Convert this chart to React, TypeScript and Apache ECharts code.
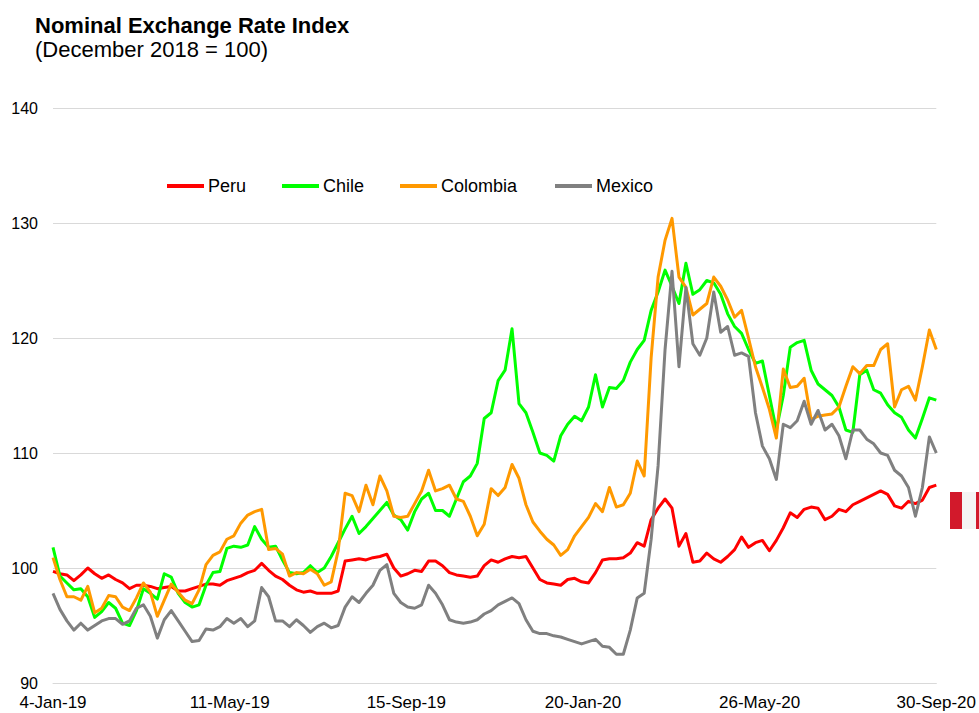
import React, { useEffect, useRef } from "react";
import * as echarts from "echarts";

// x-axis tick labels (every 127 days from 4-Jan-19)
const tickLabels = ["4-Jan-19", "11-May-19", "15-Sep-19", "20-Jan-20", "26-May-20", "30-Sep-20"];
const TICK_DAYS = 127;
const TOTAL_DAYS = 635;
const STEP_DAYS = 5; // one reading every 5 days

const peru = [
  99.7, 99.5, 99.4, 98.9, 99.4, 100.0, 99.5, 99.1, 99.4, 99.0,
  98.7, 98.2, 98.5, 98.5, 98.4, 98.2, 98.3, 98.4, 98.0, 98.0,
  98.2, 98.4, 98.6, 98.6, 98.5, 98.9, 99.1, 99.3, 99.6, 99.8,
  100.4, 99.8, 99.3, 99.0, 98.5, 98.1, 97.9, 98.0, 97.8, 97.8,
  97.8, 98.0, 100.6, 100.7, 100.8, 100.7, 100.9, 101.0, 101.2, 100.0,
  99.3, 99.5, 99.8, 99.7, 100.6, 100.6, 100.2, 99.6, 99.4, 99.3,
  99.2, 99.3, 100.2, 100.7, 100.5, 100.8, 101.0, 100.9, 101.0, 100.0,
  99.0, 98.7, 98.6, 98.5, 99.0, 99.1, 98.8, 98.7, 99.6, 100.7,
  100.8, 100.8, 100.9, 101.3, 102.2, 101.9, 104.2, 105.2, 106.0, 105.2,
  101.9, 103.0, 100.5, 100.6, 101.3, 100.8, 100.5, 101.0, 101.6, 102.7,
  101.8, 102.2, 102.4, 101.5, 102.4, 103.5, 104.8, 104.4, 105.1, 105.3,
  105.2, 104.2, 104.5, 105.1, 104.9, 105.5, 105.8, 106.1, 106.4, 106.7,
  106.4, 105.4, 105.2, 105.8, 105.6, 105.9, 107.0, 107.2,
];

const chile = [
  101.8, 99.3, 98.7, 98.1, 98.2, 97.5, 95.7, 96.2, 97.0, 96.5,
  95.2, 95.0, 96.3, 98.2, 97.8, 97.3, 99.5, 99.2, 97.8, 97.0,
  96.6, 96.8, 98.5, 99.6, 99.7, 101.7, 101.9, 101.8, 102.0, 103.6,
  102.5, 101.8, 101.9, 100.7, 99.6, 99.5, 99.6, 100.2, 99.6, 100.0,
  101.0, 102.2, 103.4, 104.5, 103.0, 103.6, 104.3, 105.0, 105.7, 104.6,
  104.2, 103.3, 104.9, 106.0, 106.5, 105.0, 105.0, 104.5, 106.0, 107.5,
  108.0, 109.1, 113.0, 113.5, 116.3, 117.2, 120.8, 114.3, 113.5, 111.8,
  110.0, 109.8, 109.3, 111.5, 112.5, 113.2, 112.8, 114.0, 116.8, 114.0,
  115.7, 115.6, 116.3, 117.9, 119.0, 119.8, 122.4, 124.0, 125.9, 124.5,
  123.0, 126.5, 123.8, 124.2, 125.0, 124.8, 123.8, 122.1, 121.0, 120.4,
  119.0, 117.8, 118.0, 115.0, 112.0, 115.0, 119.2, 119.6, 119.8, 117.2,
  116.0, 115.5, 115.0, 114.0, 112.0, 111.8, 116.8, 117.2, 115.5, 115.2,
  114.2, 113.5, 113.1, 112.0, 111.3, 113.0, 114.8, 114.6,
];

const colombia = [
  100.9, 99.0, 97.5, 97.5, 97.2, 98.4, 96.1, 96.5, 97.6, 97.5,
  96.6, 96.3, 97.4, 98.7, 97.9, 95.8, 97.2, 98.6, 97.9, 97.2,
  96.9, 98.1, 100.3, 101.1, 101.4, 102.5, 102.8, 103.9, 104.6, 104.9,
  105.1, 101.6, 101.7, 101.2, 99.3, 99.6, 99.5, 99.9, 99.5, 98.5,
  98.8, 101.5, 106.5, 106.3, 104.9, 107.2, 105.5, 108.0, 106.7, 104.5,
  104.4, 104.5, 105.6, 106.7, 108.5, 106.7, 106.9, 107.2, 106.0, 105.8,
  104.5, 102.8, 103.8, 106.9, 106.3, 107.0, 109.0, 107.8, 105.5, 104.0,
  103.2, 102.5, 102.0, 101.1, 101.6, 102.8, 103.6, 104.4, 105.6, 104.9,
  107.0, 105.3, 105.5, 106.5, 109.3, 108.0, 118.3, 125.3, 128.5, 130.4,
  125.3, 124.4, 122.0, 122.5, 123.0, 125.3, 124.5, 123.3, 121.8, 122.4,
  120.0, 117.5, 115.7, 113.8, 111.3, 117.3, 115.7, 115.8, 116.5, 112.9,
  113.2, 113.3, 113.4, 114.0, 115.8, 117.5, 116.9, 117.6, 117.6, 119.0,
  119.5, 114.0, 115.5, 115.8, 114.6, 117.5, 120.7, 119.0,
];

const mexico = [
  97.8, 96.4, 95.4, 94.6, 95.2, 94.6, 95.0, 95.4, 95.6, 95.6,
  95.1, 95.4, 96.5, 96.8, 95.8, 93.9, 95.5, 96.3, 95.4, 94.5,
  93.6, 93.7, 94.7, 94.6, 94.9, 95.6, 95.2, 95.6, 94.9, 95.4,
  98.3, 97.5, 95.4, 95.4, 94.9, 95.5, 95.0, 94.4, 94.9, 95.2,
  94.8, 95.0, 96.6, 97.5, 97.0, 97.8, 98.5, 99.8, 100.3, 97.8,
  97.0, 96.6, 96.5, 96.8, 98.5, 97.8, 96.8, 95.5, 95.3, 95.2,
  95.3, 95.5, 96.0, 96.3, 96.8, 97.1, 97.4, 96.9, 95.5, 94.5,
  94.3, 94.3, 94.1, 94.0, 93.8, 93.6, 93.4, 93.6, 93.8, 93.2,
  93.1, 92.5, 92.5, 94.6, 97.4, 97.8, 102.5, 108.9, 119.0, 125.8,
  117.5, 124.4, 119.5, 118.5, 120.0, 124.0, 120.5, 121.0, 118.5, 118.7,
  118.4, 113.5, 110.6, 109.5, 107.7, 112.5, 112.2, 112.8, 114.5, 112.5,
  113.7, 112.0, 112.5, 111.5, 109.5, 112.0, 112.0, 111.2, 110.8, 110.0,
  109.8, 108.5, 108.0, 107.0, 104.5, 107.0, 111.4, 110.0,
];

const days = peru.map((_, i) => i * STEP_DAYS);

const FONT = "'Liberation Sans', Arial, Helvetica, sans-serif";

export default function App() {
  const ref = useRef<HTMLDivElement>(null);

  useEffect(() => {
    if (!ref.current) return;
    const chart = echarts.init(ref.current, null, { renderer: "svg" });

    const mk = (name: string, color: string, vals: number[]) => ({
      name,
      type: "line",
      data: days.map((d, i) => [d, vals[i]]),
      showSymbol: false,
      symbol: "none",
      silent: true,
      lineStyle: { color, width: 3, join: "round" },
      itemStyle: { color },
    });

    const legendItem = (name: string, left: number) => ({
      left,
      top: 177,
      padding: 0,
      icon: "rect",
      itemWidth: 37,
      itemHeight: 4,
      itemGap: 0,
      data: [name],
      textStyle: { fontSize: 18, color: "#000", fontFamily: FONT, padding: [0, 0, 0, -1] },
    });

    chart.setOption({
      animation: false,
      textStyle: { fontFamily: FONT },
      title: {
        left: 35,
        top: 14,
        padding: 0,
        itemGap: 2,
        text: "Nominal Exchange Rate Index",
        textStyle: { fontSize: 22, fontWeight: "bold", color: "#000", fontFamily: FONT },
        subtext: "(December 2018 = 100)",
        subtextStyle: { fontSize: 22, color: "#000", fontFamily: FONT },
      },
      legend: [
        legendItem("Peru", 167),
        legendItem("Chile", 282),
        legendItem("Colombia", 400),
        legendItem("Mexico", 555),
      ],
      grid: { left: 53, right: 41, top: 108, bottom: 30 },
      xAxis: {
        type: "value",
        min: 0,
        max: TOTAL_DAYS,
        interval: TICK_DAYS,
        axisLine: { show: true, lineStyle: { color: "#d9d9d9", width: 1 } },
        axisTick: { show: false },
        splitLine: { show: false },
        axisLabel: {
          formatter: (v: number) => tickLabels[Math.round(v / TICK_DAYS)] ?? "",
          fontSize: 17,
          color: "#000",
          margin: 11,
          showMinLabel: true,
          showMaxLabel: true,
        },
      },
      yAxis: {
        type: "value",
        min: 90,
        max: 140,
        interval: 10,
        axisLine: { show: false },
        axisTick: { show: false },
        splitLine: { lineStyle: { color: "#d9d9d9", width: 1 } },
        axisLabel: { fontSize: 16, color: "#000", margin: 15 },
      },
      graphic: [
        { type: "rect", shape: { x: 950, y: 492, width: 12, height: 37 }, style: { fill: "#d2192b" } },
        { type: "rect", shape: { x: 962, y: 492, width: 14, height: 37 }, style: { fill: "#f4f4f4" } },
        { type: "rect", shape: { x: 976, y: 492, width: 3, height: 37 }, style: { fill: "#d2192b" } },
      ],
      series: [
        mk("Peru", "#ff0000", peru),
        mk("Chile", "#00ff00", chile),
        mk("Colombia", "#ff9900", colombia),
        mk("Mexico", "#808080", mexico),
      ],
    });

    return () => chart.dispose();
  }, []);

  return (
    <div
      ref={ref}
      style={{ position: "fixed", left: 0, top: 0, width: 979, height: 713, background: "#fff" }}
    />
  );
}
